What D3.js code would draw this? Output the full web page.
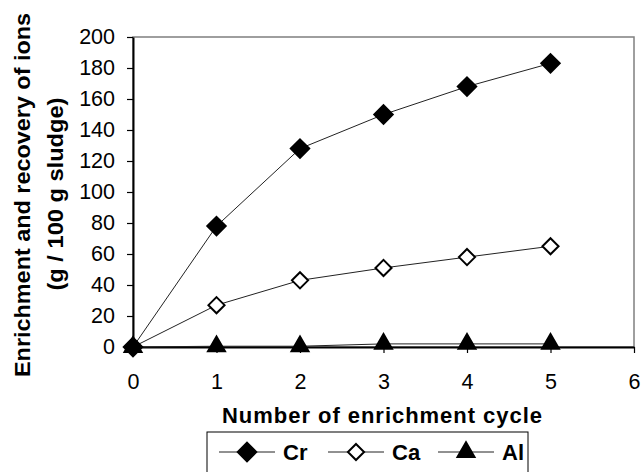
<!DOCTYPE html>
<html>
<head>
<meta charset="utf-8">
<script src="https://cdn.jsdelivr.net/npm/d3@7"></script>
<style>
  body { margin: 0; background: #fff; }
  svg { display: block; font-family: "Liberation Sans", Arial, sans-serif; }
</style>
</head>
<body>
<div id="chart"></div>
<script>
const width = 642;
const height = 472;
const marginTop = 37;
const marginRight = 8;
const marginBottom = 125;
const marginLeft = 133;

const cycles = [0, 1, 2, 3, 4, 5];
const crValues = [0, 78, 128, 150, 168, 183];
const caValues = [0, 27, 43, 51, 58, 65];
const alValues = [0, 0.5, 0.5, 2, 2, 2];
const xTicks = [0, 1, 2, 3, 4, 5, 6];
const yTicks = [0, 20, 40, 60, 80, 100, 120, 140, 160, 180, 200];
const seriesNames = ["Cr", "Ca", "Al"];

const svg = d3.select("#chart")
    .append("svg")
    .attr("width", width)
    .attr("height", height);

const xScale = d3.scaleLinear()
    .domain([0, 6])
    .range([marginLeft, width - marginRight]);

const yScale = d3.scaleLinear()
    .domain([0, 200])
    .range([height - marginBottom, marginTop]);

// plot frame, top and right side are grey
svg.append("rect")
    .attr("x", xScale(0))
    .attr("y", yScale(200))
    .attr("width", xScale(6) - xScale(0))
    .attr("height", yScale(0) - yScale(200))
    .attr("fill", "none")
    .attr("stroke", "#7f7f7f")
    .attr("stroke-width", 1.5);

const yAxis = svg.append("g")
    .attr("transform", `translate(${marginLeft},0)`)
    .call(d3.axisLeft(yScale).tickValues(yTicks).tickSize(6).tickPadding(12).tickSizeOuter(0));

const xAxis = svg.append("g")
    .attr("transform", `translate(0,${yScale(0)})`)
    .call(d3.axisBottom(xScale).tickValues(xTicks).tickFormat(d3.format("d"))
        .tickSize(6).tickPadding(21).tickSizeOuter(0));

[yAxis, xAxis].forEach(ax => {
    ax.select(".domain").attr("stroke", "#000").attr("stroke-width", 2);
    ax.selectAll(".tick line").attr("stroke", "#000").attr("stroke-width", 1.2);
    ax.selectAll("text")
        .attr("fill", "#000")
        .style("font-size", "21.5px")
        .style("font-family", "Liberation Sans, Arial, sans-serif");
});

// axis titles
svg.append("text")
    .attr("transform", "translate(22,195) rotate(-90)")
    .attr("text-anchor", "middle")
    .attr("dominant-baseline", "central")
    .attr("textLength", 364)
    .attr("lengthAdjust", "spacingAndGlyphs")
    .style("font-size", "22px")
    .style("font-weight", "bold")
    .text("Enrichment and recovery of ions");

svg.append("text")
    .attr("transform", "translate(55,194) rotate(-90)")
    .attr("text-anchor", "middle")
    .attr("dominant-baseline", "central")
    .attr("textLength", 193)
    .attr("lengthAdjust", "spacingAndGlyphs")
    .style("font-size", "22px")
    .style("font-weight", "bold")
    .text("(g / 100 g sludge)");

svg.append("text")
    .attr("x", 382)
    .attr("y", 415)
    .attr("text-anchor", "middle")
    .attr("dominant-baseline", "central")
    .attr("textLength", 320)
    .attr("lengthAdjust", "spacing")
    .style("font-size", "22px")
    .style("font-weight", "bold")
    .text("Number of enrichment cycle");

// series
const diamond = { draw(ctx, size) {
    const r = Math.sqrt(size / 2);
    ctx.moveTo(0, -r); ctx.lineTo(r, 0); ctx.lineTo(0, r); ctx.lineTo(-r, 0); ctx.closePath();
} };

const series = [
    { name: seriesNames[0], values: crValues, symbol: diamond, size: 170, fill: "#000" },
    { name: seriesNames[1], values: caValues, symbol: diamond, size: 130, fill: "#fff" },
    { name: seriesNames[2], values: alValues, symbol: d3.symbolTriangle, size: 125, fill: "#000" }
];

const line = d3.line()
    .x((d, i) => xScale(cycles[i]))
    .y(d => yScale(d));

series.forEach(s => {
    svg.append("path")
        .datum(s.values)
        .attr("d", line)
        .attr("fill", "none")
        .attr("stroke", "#222")
        .attr("stroke-width", 1);
});

series.slice().reverse().forEach(s => {
    svg.append("g")
        .selectAll("path")
        .data(s.values)
        .join("path")
        .attr("transform", (d, i) => `translate(${xScale(cycles[i])},${yScale(d)})`)
        .attr("d", d3.symbol().type(s.symbol).size(s.size))
        .attr("fill", s.fill)
        .attr("stroke", "#000")
        .attr("stroke-width", 2);
});

// legend
const legend = svg.append("g");
legend.append("rect")
    .attr("x", 207)
    .attr("y", 432)
    .attr("width", 321)
    .attr("height", 50)
    .attr("fill", "#fff")
    .attr("stroke", "#000")
    .attr("stroke-width", 1);

const legendX = [219, 328, 438];
series.forEach((s, i) => {
    const g = legend.append("g").attr("transform", `translate(${legendX[i]},452)`);
    g.append("line")
        .attr("x1", 0).attr("x2", 56)
        .attr("stroke", "#222").attr("stroke-width", 1);
    g.append("path")
        .attr("transform", "translate(28,0)")
        .attr("d", d3.symbol().type(s.symbol).size(s.size))
        .attr("fill", s.fill)
        .attr("stroke", "#000")
        .attr("stroke-width", 2);
    g.append("text")
        .attr("x", 64)
        .attr("y", 0)
        .attr("dominant-baseline", "central")
        .style("font-size", "22px")
        .style("font-weight", "bold")
        .text(s.name);
});
</script>
</body>
</html>
